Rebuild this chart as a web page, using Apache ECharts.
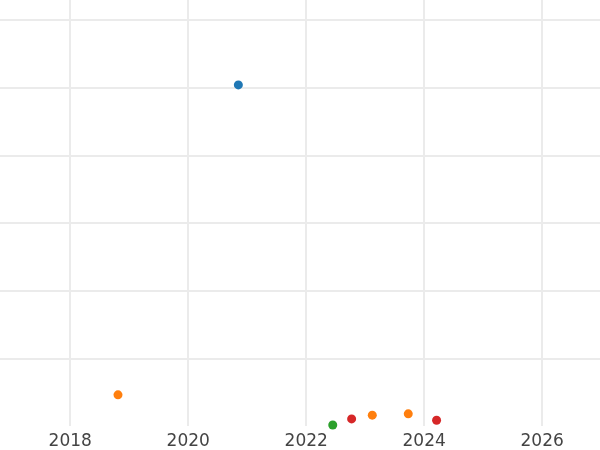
<!DOCTYPE html>
<html>
<head>
<meta charset="utf-8">
<script src="https://cdn.jsdelivr.net/npm/echarts@6/dist/echarts.min.js"></script>
<style>
  html, body { margin: 0; padding: 0; background: #fff; }
  #chart { width: 600px; height: 450px; }
</style>
</head>
<body>
<div id="chart"></div>
<script>
// points, grouped by colour
var blueYears = [2020.85];
var blueValues = [50.4];
var orangeYears = [2018.81, 2023.12, 2023.73];
var orangeValues = [4.6, 1.6, 1.8];
var greenYears = [2022.45];
var greenValues = [0.15];
var redYears = [2022.77, 2024.21];
var redValues = [1.05, 0.85];

var yearTicks = [2018, 2020, 2022, 2024, 2026];
var valueTicks = [10, 20, 30, 40, 50, 60];

function pairs(xs, ys) {
  return xs.map(function (x, i) { return [x, ys[i]]; });
}

var chart = echarts.init(document.getElementById("chart"));

var gridColor = "#ebebeb";

var option = {
  animation: false,
  grid: {
    left: 0,
    right: 0,
    top: 0,
    bottom: 22
  },
  xAxis: {
    type: "value",
    min: 2016.81,
    max: 2026.98,
    axisLine: { show: false },
    axisTick: { show: false, customValues: yearTicks },
    axisLabel: {
      color: "#444",
      fontFamily: "DejaVu Sans",
      fontSize: 17,
      margin: 7,
      customValues: yearTicks,
      formatter: function (v) { return String(v); }
    },
    splitLine: {
      show: true,
      customValues: yearTicks,
      lineStyle: { color: gridColor, width: 2 }
    }
  },
  yAxis: {
    type: "value",
    min: 0,
    max: 62.94,
    axisLine: { show: false },
    axisTick: { show: false, customValues: valueTicks },
    axisLabel: { show: false, customValues: valueTicks },
    splitLine: {
      show: true,
      customValues: valueTicks,
      lineStyle: { color: gridColor, width: 2 }
    }
  },
  series: [
    {
      type: "scatter",
      symbolSize: 9,
      itemStyle: { color: "#1f77b4", opacity: 1 },
      data: pairs(blueYears, blueValues)
    },
    {
      type: "scatter",
      symbolSize: 9,
      itemStyle: { color: "#ff7f0e", opacity: 1 },
      data: pairs(orangeYears, orangeValues)
    },
    {
      type: "scatter",
      symbolSize: 9,
      itemStyle: { color: "#2ca02c", opacity: 1 },
      data: pairs(greenYears, greenValues)
    },
    {
      type: "scatter",
      symbolSize: 9,
      itemStyle: { color: "#d62728", opacity: 1 },
      data: pairs(redYears, redValues)
    }
  ]
};

chart.setOption(option);
</script>
</body>
</html>
